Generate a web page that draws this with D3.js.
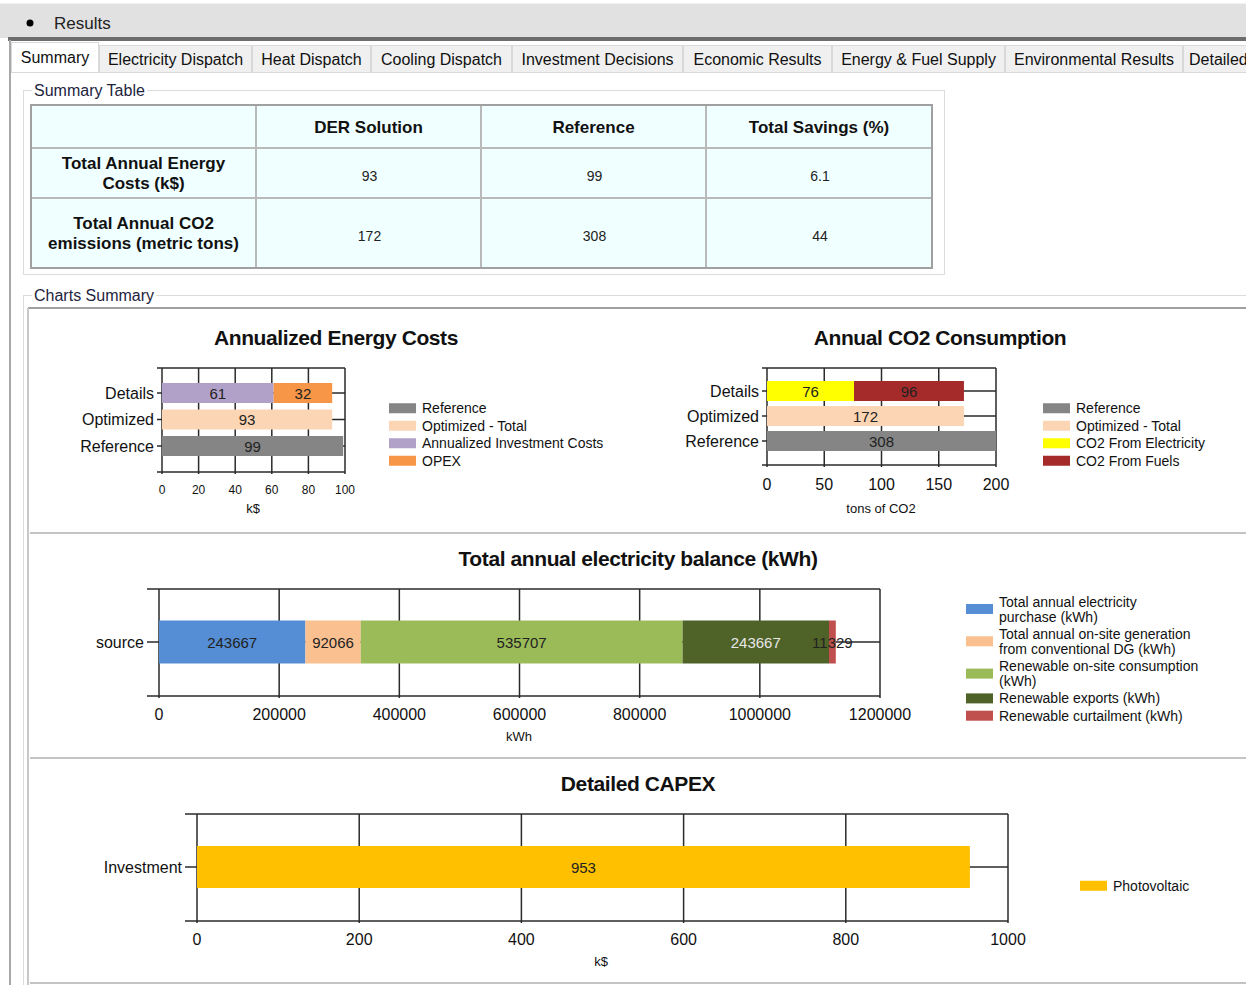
<!DOCTYPE html>
<html><head><meta charset="utf-8">
<script src="https://cdn.jsdelivr.net/npm/d3@7"></script>
<style>
body{margin:0;background:#fff;overflow:hidden}
svg{display:block}
text{font-family:"Liberation Sans",Arial,sans-serif}
</style></head><body>
<svg id="c" width="1246" height="985"></svg>
<script>
// ---------- DATA ----------
const tabs = ["Summary","Electricity Dispatch","Heat Dispatch","Cooling Dispatch","Investment Decisions","Economic Results","Energy & Fuel Supply","Environmental Results","Detailed"];
const tableColumns = ["","DER Solution","Reference","Total Savings (%)"];
const tableRowHeaders = [["Total Annual Energy","Costs (k$)"],["Total Annual CO2","emissions (metric tons)"]];
const tableValues = [["93","99","6.1"],["172","308","44"]];

const summaryCategories = ["Details","Optimized","Reference"];
const costReference = [0,0,99];
const costOptimized = [0,93,0];
const costInvestment = [61,0,0];
const costOpex = [32,0,0];
const costTicks = [0,20,40,60,80,100];

const co2Reference = [0,0,308];
const co2Optimized = [0,172,0];
const co2Electricity = [76,0,0];
const co2Fuels = [96,0,0];
const co2Ticks = [0,50,100,150,200];

const elecCategories = ["source"];
const elecPurchase = [243667];
const elecConventional = [92066];
const elecRenewableConsumption = [535707];
const elecExports = [243667];
const elecCurtailment = [11329];
const elecTicks = [0,200000,400000,600000,800000,1000000,1200000];

const capexCategories = ["Investment"];
const capexPV = [953];
const capexTicks = [0,200,400,600,800,1000];

// ---------- DRAW ----------
const svg = d3.select("#c");

// top bar
svg.append("rect").attr("x",0).attr("y",3).attr("width",1246).attr("height",35).attr("fill","#e1e1e1");
svg.append("rect").attr("x",0).attr("y",3).attr("width",1246).attr("height",1).attr("fill","#f0f0f0");
svg.append("circle").attr("cx",30).attr("cy",23).attr("r",3.5).attr("fill","#000");
svg.append("text").attr("x",54).attr("y",23).attr("dominant-baseline","central").attr("font-size",17).attr("fill","#222").text("Results");
svg.append("rect").attr("x",8).attr("y",37).attr("width",1238).attr("height",4).attr("fill","#6d6d6d");
// left window frame
svg.append("rect").attr("x",9).attr("y",40).attr("width",2).attr("height",945).attr("fill","#a8a8a8");

// tabs
const tabEdges = [11,99,252,371,512,683,832,1005,1183,1300];
tabs.forEach((t,i)=>{
  const x0 = tabEdges[i], x1 = tabEdges[i+1];
  const active = i===0;
  svg.append("rect").attr("x",x0+0.5).attr("y",active?42.5:45.5).attr("width",x1-x0-1).attr("height",active?30:27)
    .attr("fill",active?"#fff":"#f0f0f0").attr("stroke","#d9d9d9");
  svg.append("text").attr("x",i===8? x0+6 : (x0+x1)/2).attr("y",active?57:59).attr("text-anchor",i===8?"start":"middle")
    .attr("dominant-baseline","central").attr("font-size",16).attr("fill","#111").text(t);
});
svg.append("line").attr("x1",98).attr("x2",1246).attr("y1",72.5).attr("y2",72.5).attr("stroke","#d9d9d9");

// group boxes
function groupBox(x,y,w,h,title){
  svg.append("rect").attr("x",x+0.5).attr("y",y+0.5).attr("width",w).attr("height",h).attr("fill","none").attr("stroke","#dcdcdc");
  const t = svg.append("text").attr("x",x+11).attr("y",y).attr("dominant-baseline","central").attr("font-size",16).attr("fill","#1e2440").text(title);
  const bb = t.node().getBBox();
  svg.append("rect").attr("x",bb.x-2).attr("y",y-2).attr("width",bb.width+4).attr("height",4).attr("fill","#fff");
  t.raise();
}
groupBox(23,90,921,184,"Summary Table");
groupBox(23,295,1240,700,"Charts Summary");

// table
const colX = [31,256,481,706,932];
const rowY = [105,148,198,268];
svg.append("rect").attr("x",colX[0]).attr("y",rowY[0]).attr("width",colX[4]-colX[0]).attr("height",rowY[3]-rowY[0]).attr("fill","#f0ffff");
const gl = svg.append("g").attr("stroke","#b9b9b9").attr("stroke-width",2);
colX.forEach(x=>gl.append("line").attr("x1",x).attr("x2",x).attr("y1",rowY[0]).attr("y2",rowY[3]));
rowY.forEach(y=>gl.append("line").attr("x1",colX[0]).attr("x2",colX[4]).attr("y1",y).attr("y2",y));
svg.append("rect").attr("x",colX[0]).attr("y",rowY[0]).attr("width",colX[4]-colX[0]).attr("height",rowY[3]-rowY[0]).attr("fill","none").attr("stroke","#a0a0a0").attr("stroke-width",2);
tableColumns.forEach((c,i)=>{
  if(!c) return;
  svg.append("text").attr("x",(colX[i]+colX[i+1])/2).attr("y",(rowY[0]+rowY[1])/2+1).attr("text-anchor","middle").attr("dominant-baseline","central")
    .attr("font-size",17).attr("font-weight","bold").attr("fill","#111").text(c);
});
tableRowHeaders.forEach((lines,r)=>{
  const cy = (rowY[r+1]+rowY[r+2])/2;
  lines.forEach((l,k)=>{
    svg.append("text").attr("x",(colX[0]+colX[1])/2).attr("y",cy+(k-0.5)*20+0.5).attr("text-anchor","middle").attr("dominant-baseline","central")
      .attr("font-size",17).attr("font-weight","bold").attr("fill","#111").text(l);
  });
  tableValues[r].forEach((v,c)=>{
    svg.append("text").attr("x",(colX[c+1]+colX[c+2])/2+1).attr("y",cy+2.5).attr("text-anchor","middle").attr("dominant-baseline","central")
      .attr("font-size",14).attr("fill","#222").style("font-family","'Liberation Sans Narrow','Arial Narrow',sans-serif").text(v);
  });
});

// charts panel
svg.append("line").attr("x1",28).attr("x2",1246).attr("y1",308).attr("y2",308).attr("stroke","#a0a0a0").attr("stroke-width",2);
svg.append("line").attr("x1",28).attr("x2",28).attr("y1",308).attr("y2",985).attr("stroke","#c8c8c8").attr("stroke-width",2);
[533,758,983].forEach(y=>svg.append("line").attr("x1",30).attr("x2",1246).attr("y1",y).attr("y2",y).attr("stroke","#c4c4c4").attr("stroke-width",2));

function barChart(o){
  const g = svg.append("g");
  const x = d3.scaleLinear().domain(o.domain).range([o.x0,o.x1]).clamp(true);
  const y = d3.scalePoint().domain(o.cats).range(o.catRange).padding(o.cats.length===1?0.5:0);
  g.append("text").attr("x",o.titleX).attr("y",o.titleY).attr("text-anchor","middle").attr("dominant-baseline","central")
    .attr("font-size",21).attr("font-weight","bold").attr("letter-spacing",-0.4).attr("fill","#111").text(o.title);
  const ln = g.append("g").attr("stroke","#2a2a2a").attr("stroke-width",1.5);
  // frame / grid
  [o.top,o.bottom].forEach(yy=>ln.append("line").attr("x1",o.x0-o.tick).attr("x2",o.x1).attr("y1",yy).attr("y2",yy));
  o.cats.forEach(c=>ln.append("line").attr("x1",o.x0-o.tick).attr("x2",o.x1).attr("y1",y(c)).attr("y2",y(c)));
  o.ticks.forEach(t=>ln.append("line").attr("x1",x(t)).attr("x2",x(t)).attr("y1",o.top).attr("y2",o.bottom+2));
  // stacked bars
  o.cats.forEach((c,ci)=>{
    let acc = 0;
    o.series.forEach(s=>{
      const v = s.values[ci];
      if(!v) return;
      const a = x(acc), b = x(acc+v);
      g.append("rect").attr("x",a).attr("y",y(c)-o.barH/2).attr("width",b-a).attr("height",o.barH).attr("fill",s.color);
      g.append("text").attr("x",(a+b)/2).attr("y",y(c)).attr("text-anchor","middle").attr("dominant-baseline","central")
        .attr("font-size",o.valSize).attr("fill",s.textColor||"#222")
        .style("font-family","'Liberation Sans Narrow','Arial Narrow',sans-serif").text(d3.format("d")(v));
      acc += v;
    });
    g.append("text").attr("x",o.x0-o.tick-3).attr("y",y(c)).attr("text-anchor","end").attr("dominant-baseline","central")
      .attr("font-size",o.catSize).attr("fill","#111").text(c);
  });
  o.ticks.forEach(t=>g.append("text").attr("x",x(t)).attr("y",o.tickY).attr("text-anchor","middle").attr("dominant-baseline","central")
    .attr("font-size",o.tickSize).attr("fill","#111").text(t));
  g.append("text").attr("x",o.axisX).attr("y",o.axisY).attr("text-anchor","middle").attr("dominant-baseline","central")
    .attr("font-size",o.axisSize||13).attr("fill","#111").text(o.axisTitle);
  // legend
  let ly = o.legendY;
  o.legend.forEach(s=>{
    const lines = s.lines || [s.name];
    const h = lines.length*o.legendLine;
    const cy = ly + h/2;
    g.append("rect").attr("x",o.legendX).attr("y",cy-5).attr("width",27).attr("height",10).attr("fill",s.color);
    lines.forEach((l,k)=>g.append("text").attr("x",o.legendX+33).attr("y",ly+o.legendLine*(k+0.5)).attr("dominant-baseline","central")
      .attr("font-size",14).attr("fill","#111").text(l));
    ly += h + (o.legendGap||0);
  });
}

const GRAY="#858585", PEACH="#fcd5b4";
barChart({
  title:"Annualized Energy Costs", titleX:336, titleY:337,
  cats:summaryCategories, catRange:[393,446], domain:[0,100], ticks:costTicks,
  x0:162, x1:345, top:368, bottom:472, tick:5, barH:20,
  series:[{name:"Reference",color:GRAY,values:costReference},{name:"Optimized - Total",color:PEACH,values:costOptimized},
          {name:"Annualized Investment Costs",color:"#b1a0c7",values:costInvestment},{name:"OPEX",color:"#f79646",values:costOpex}],
  legend:[{name:"Reference",color:GRAY},{name:"Optimized - Total",color:PEACH},{name:"Annualized Investment Costs",color:"#b1a0c7"},{name:"OPEX",color:"#f79646"}],
  legendX:389, legendY:399.5, legendLine:17.5,
  valSize:15, catSize:16, tickSize:12, tickY:490, axisTitle:"k$", axisX:253, axisY:508
});
barChart({
  title:"Annual CO2 Consumption", titleX:940, titleY:337,
  cats:summaryCategories, catRange:[391,441], domain:[0,200], ticks:co2Ticks,
  x0:767, x1:996, top:368, bottom:465, tick:5, barH:20,
  series:[{name:"Reference",color:GRAY,values:co2Reference},{name:"Optimized - Total",color:PEACH,values:co2Optimized},
          {name:"CO2 From Electricity",color:"#ffff00",values:co2Electricity},{name:"CO2 From Fuels",color:"#a52a2a",values:co2Fuels}],
  legend:[{name:"Reference",color:GRAY},{name:"Optimized - Total",color:PEACH},{name:"CO2 From Electricity",color:"#ffff00"},{name:"CO2 From Fuels",color:"#a52a2a"}],
  legendX:1043, legendY:399.5, legendLine:17.5,
  valSize:15, catSize:16, tickSize:16, tickY:484, axisTitle:"tons of CO2", axisX:881, axisY:508
});
barChart({
  title:"Total annual electricity balance (kWh)", titleX:638, titleY:558,
  cats:elecCategories, catRange:[642,642], domain:[0,1200000], ticks:elecTicks,
  x0:159, x1:880, top:589, bottom:696, tick:12, barH:43,
  series:[{color:"#558ed5",values:elecPurchase},{color:"#fac090",values:elecConventional},{color:"#9bbb59",values:elecRenewableConsumption},
          {color:"#4f6228",values:elecExports,textColor:"#e8e8e8"},{color:"#c0504d",values:elecCurtailment}],
  legend:[{color:"#558ed5",lines:["Total annual electricity","purchase (kWh)"]},
          {color:"#fac090",lines:["Total annual on-site generation","from conventional DG (kWh)"]},
          {color:"#9bbb59",lines:["Renewable on-site consumption","(kWh)"]},
          {color:"#4f6228",lines:["Renewable exports (kWh)"]},
          {color:"#c0504d",lines:["Renewable curtailment (kWh)"]}],
  legendX:966, legendY:594, legendLine:15, legendGap:2.3,
  valSize:15, catSize:16, tickSize:16, tickY:714, axisTitle:"kWh", axisX:519, axisY:736
});
barChart({
  title:"Detailed CAPEX", titleX:638, titleY:783,
  cats:capexCategories, catRange:[867,867], domain:[0,1000], ticks:capexTicks,
  x0:197, x1:1008, top:814, bottom:921, tick:12, barH:42,
  series:[{color:"#ffc000",values:capexPV}],
  legend:[{name:"Photovoltaic",color:"#ffc000"}],
  legendX:1080, legendY:877, legendLine:17.5,
  valSize:15, catSize:16, tickSize:16, tickY:939, axisTitle:"k$", axisX:601, axisY:961
});
</script>
</body></html>
